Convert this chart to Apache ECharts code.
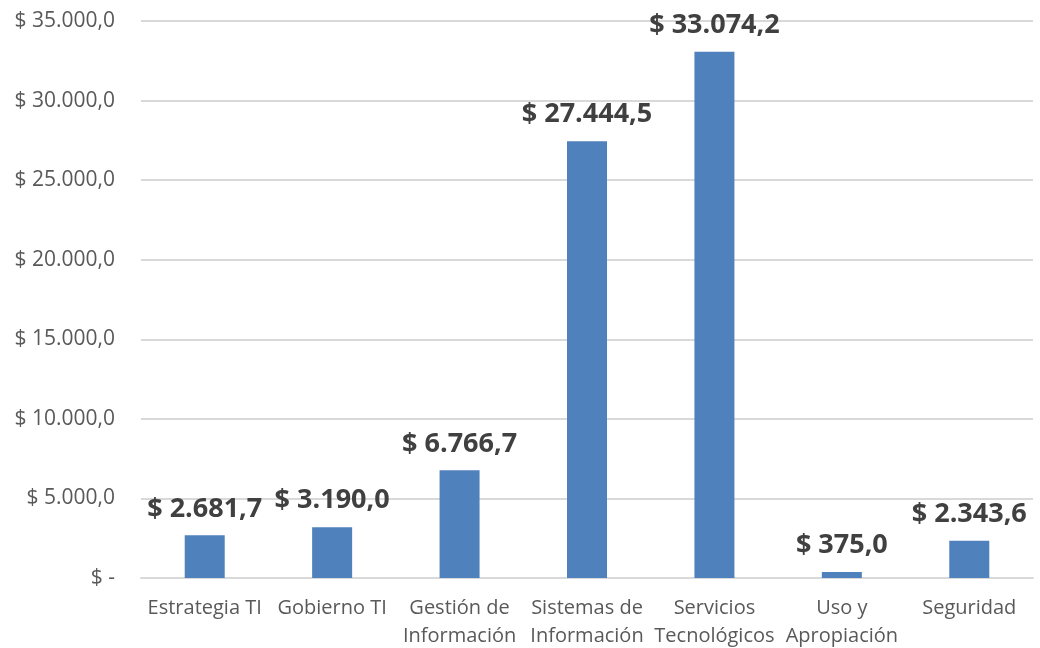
<!DOCTYPE html>
<html>
<head>
<meta charset="utf-8">
<script src="https://cdn.jsdelivr.net/npm/echarts@6/dist/echarts.min.js"></script>
<style>
  html, body { margin: 0; padding: 0; background: #fff; }
  #chart { width: 1040px; height: 648px; }
</style>
</head>
<body>
<div id="chart"></div>
<script>
// categorias (con salto de linea como en el original)
var categories = ['Estrategia TI', 'Gobierno TI', 'Gestión de\nInformación', 'Sistemas de\nInformación',
    'Servicios\nTecnológicos', 'Uso y\nApropiación', 'Seguridad'];
// valores (millones)
var values = [2681.7, 3190.0, 6766.7, 27444.5, 33074.2, 375.0, 2343.6];
var yTicks = { min: 0, max: 35000, interval: 5000 };

// formato tipo contabilidad: $ 35.000,0
function money(v) {
    if (v === 0) return '$ -';
    var parts = v.toFixed(1).split('.');
    var ent = parts[0].replace(/\B(?=(\d{3})+(?!\d))/g, '.');
    return '$ ' + ent + ',' + parts[1];
}

var myChart = echarts.init(document.getElementById('chart'));
var option = {
    animation: false,
    grid: { left: 141, right: 7, top: 21, bottom: 70, containLabel: false, outerBoundsMode: 'none' },
    xAxis: {
        type: 'category',
        data: categories,
        axisLine: { show: true, lineStyle: { color: '#d9d9d9', width: 2 } },
        axisTick: { show: false },
        axisLabel: {
            interval: 0,
            color: '#595959',
            fontFamily: 'Open Sans',
            fontSize: 20,
            lineHeight: 28,
            margin: 16
        }
    },
    yAxis: {
        type: 'value',
        min: yTicks.min,
        max: yTicks.max,
        interval: yTicks.interval,
        axisLine: { show: false },
        axisTick: { show: false },
        splitLine: { lineStyle: { color: '#d9d9d9', width: 2 } },
        axisLabel: {
            color: '#595959',
            fontFamily: 'Open Sans',
            fontSize: 21,
            margin: 26,
            formatter: money
        }
    },
    series: [
        {
            type: 'bar',
            data: values,
            barWidth: 40,
            itemStyle: { color: '#4f81bd' },
            label: {
                show: true,
                position: 'top',
                distance: 13,
                color: '#404040',
                fontFamily: 'Open Sans',
                fontWeight: 'bold',
                fontSize: 27,
                formatter: function (p) { return money(p.value); }
            }
        }
    ]
};
myChart.setOption(option);
</script>
</body>
</html>
